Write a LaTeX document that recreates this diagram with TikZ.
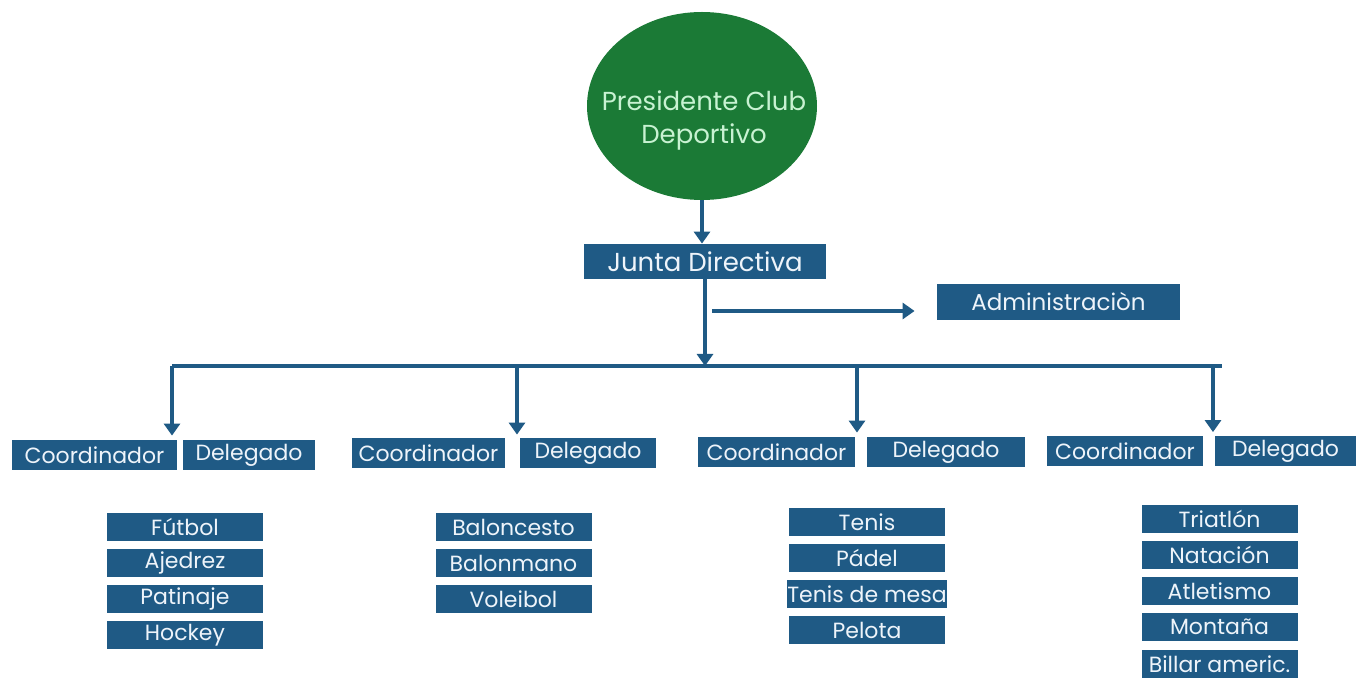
\documentclass[tikz,border=0pt]{standalone}
\usepackage{fontspec}
\setmainfont{Poppins}
\usetikzlibrary{shapes.geometric,arrows.meta}
\definecolor{azulclub}{HTML}{1F5A85}
\definecolor{verdeclub}{HTML}{1B7A36}
\definecolor{textoverde}{HTML}{C8F2D2}
\definecolor{textocaja}{HTML}{EEF4FA}
\tikzset{
	caja/.style={fill=azulclub, text=textocaja, inner sep=0pt, minimum height=15pt, font=\fontsize{11}{12}\selectfont},
	deporte/.style={caja, minimum width=78pt, minimum height=14pt},
	jefe/.style={ellipse, fill=verdeclub, minimum width=115pt, minimum height=94pt, inner sep=0pt},
	jefetexto/.style={text=textoverde, align=center, font=\fontsize{13}{16.5}\selectfont},
	linea/.style={draw=azulclub, line width=1.9pt},
	flecha/.style={linea, -{Triangle[width=8pt,length=6pt]}}
}
\begin{document}
\begin{tikzpicture}[x=0.5pt, y=-0.5pt]
	\useasboundingbox (0,0) rectangle (1356,678);
	\node[jefe] (Presidente) at (702,106) {};
	\node[jefetexto] (PresidenteTexto) at (704,120) {Presidente Club\\Deportivo};
	\node[caja, minimum width=121pt, minimum height=17.5pt, font=\fontsize{13}{14}\selectfont] (Junta) at (705,261.5) {Junta Directiva};
	\node[caja, minimum width=121.5pt, minimum height=18pt, font=\fontsize{11.5}{13}\selectfont] (Administracion) at (1058.5,302) {Administraciòn};
	\node[caja, minimum width=82.5pt] (Coordinador1) at (94.5,455) {Coordinador};
	\node[caja, minimum width=66pt] (Delegado1) at (249,455) {Delegado};
	\node[caja, minimum width=76.5pt] (Coordinador2) at (428.5,453) {Coordinador};
	\node[caja, minimum width=68pt] (Delegado2) at (588,453) {Delegado};
	\node[caja, minimum width=78.5pt] (Coordinador3) at (776.5,452) {Coordinador};
	\node[caja, minimum width=79pt] (Delegado3) at (946,452) {Delegado};
	\node[caja, minimum width=78pt] (Coordinador4) at (1125,451.5) {Coordinador};
	\node[caja, minimum width=70.5pt] (Delegado4) at (1285.5,451.5) {Delegado};
	\node[deporte] (Futbol) at (185,527) {Fútbol};
	\node[deporte] (Ajedrez) at (185,563) {Ajedrez};
	\node[deporte] (Patinaje) at (185,599) {Patinaje};
	\node[deporte] (Hockey) at (185,635) {Hockey};
	\node[deporte] (Baloncesto) at (513.5,527) {Baloncesto};
	\node[deporte] (Balonmano) at (513.5,563) {Balonmano};
	\node[deporte] (Voleibol) at (513.5,599) {Voleibol};
	\node[deporte] (Tenis) at (867,522) {Tenis};
	\node[deporte] (Padel) at (867,558) {Pádel};
	\node[deporte] (TenisMesa) at (867,594) {Tenis de mesa};
	\node[deporte] (Pelota) at (867,630) {Pelota};
	\node[deporte] (Triatlon) at (1219.5,519) {Triatlón};
	\node[deporte] (Natacion) at (1219.5,555) {Natación};
	\node[deporte] (Atletismo) at (1219.5,591) {Atletismo};
	\node[deporte] (Montana) at (1219.5,627) {Montaña};
	\node[deporte] (Billar) at (1219.5,664.5) {Billar americ.};
	\coordinate (Bus) at (705,366);
	\coordinate (Ramal) at (712,311);
	\coordinate (BusIzq) at (172,366);
	\coordinate (BusDer) at (1222,366);
	\coordinate (Rama1) at (172,366);
	\coordinate (Rama2) at (517,366);
	\coordinate (Rama3) at (857,366);
	\coordinate (Rama4) at (1213,366);
	\draw[flecha] (Presidente.south) -- (Presidente.south |- Junta.north);
	\draw[flecha] (Junta.south) -- (Bus);
	\draw[flecha, shorten >=11pt] (Ramal) -- (Ramal -| Administracion.west);
	\draw[linea] (BusIzq) -- (BusDer);
	\draw[flecha, shorten >=2pt] (Rama1) -- (Rama1 |- Coordinador1.north);
	\draw[flecha, shorten >=1.5pt] (Rama2) -- (Rama2 |- Coordinador2.north);
	\draw[flecha, shorten >=2pt] (Rama3) -- (Rama3 |- Coordinador3.north);
	\draw[flecha, shorten >=2pt] (Rama4) -- (Rama4 |- Coordinador4.north);
\end{tikzpicture}
\end{document}
